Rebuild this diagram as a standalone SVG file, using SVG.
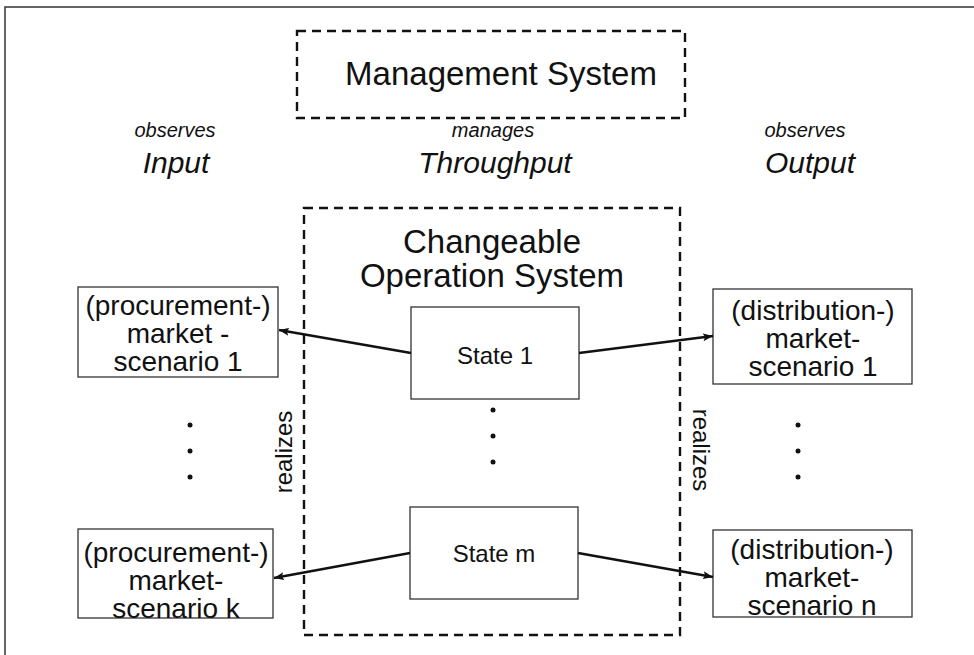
<svg xmlns="http://www.w3.org/2000/svg" width="974" height="655" viewBox="0 0 974 655">
  <defs>
    <style>
      text { font-family: "Liberation Sans", Arial, sans-serif; fill: #111; text-anchor: middle; dominant-baseline: central; }
      .dash { fill: none; stroke: #111; stroke-width: 2.4; stroke-dasharray: 9 6; }
      .box { fill: #fff; stroke: #333; stroke-width: 1.3; }
      .title { font-size: 33px; }
      .label { font-size: 28px; }
      .state { font-size: 24px; }
      .verb { font-size: 20px; font-style: italic; }
      .flow { font-size: 30px; font-style: italic; }
      .side { font-size: 24px; }
      .edge { fill: none; stroke: #111; stroke-width: 2.4; }
      .dot { fill: #111; }
    </style>
    <marker id="arrow" viewBox="0 0 10 8" refX="10" refY="4" markerWidth="10" markerHeight="8" markerUnits="userSpaceOnUse" orient="auto">
      <path d="M0,0 L10,4 L0,8 L2,4 Z" fill="#111"/>
    </marker>
  </defs>

  <rect width="974" height="655" fill="#fff"/>

  <!-- page frame -->
  <path d="M5,655 V7 H974" fill="none" stroke="#333" stroke-width="1.5"/>

  <!-- management layer -->
  <g id="management-system">
    <rect class="dash" x="297" y="31" width="388" height="87"/>
    <text class="title" x="501" y="73">Management System</text>
  </g>

  <g id="input-label">
    <text class="verb" x="175" y="130">observes</text>
    <text class="flow" x="176" y="162">Input</text>
  </g>
  <g id="throughput-label">
    <text class="verb" x="493" y="130">manages</text>
    <text class="flow" x="495" y="162">Throughput</text>
  </g>
  <g id="output-label">
    <text class="verb" x="805" y="130">observes</text>
    <text class="flow" x="810" y="162">Output</text>
  </g>

  <!-- operation system and its states -->
  <g id="operation-system">
    <rect class="dash" x="304" y="208" width="376" height="427"/>
    <text class="title" x="492" y="241">Changeable</text>
    <text class="title" x="492" y="275">Operation System</text>
  </g>

  <g id="state-1">
    <rect class="box" x="411" y="307" width="168" height="92"/>
    <text class="state" x="495" y="355">State 1</text>
  </g>
  <g id="state-m">
    <rect class="box" x="410" y="507" width="168" height="92"/>
    <text class="state" x="494" y="553">State m</text>
  </g>
  <g id="state-dots">
    <circle class="dot" cx="493" cy="410" r="2.5"/>
    <circle class="dot" cx="493" cy="436" r="2.5"/>
    <circle class="dot" cx="493" cy="462" r="2.5"/>
  </g>

  <!-- procurement scenarios -->
  <g id="procurement-1">
    <rect class="box" x="78" y="287" width="200" height="90"/>
    <text class="label" x="178" y="305">(procurement-)</text>
    <text class="label" x="178" y="333">market -</text>
    <text class="label" x="178" y="361">scenario 1</text>
  </g>
  <g id="procurement-k">
    <rect class="box" x="78" y="529" width="195" height="89"/>
    <text class="label" x="176" y="552">(procurement-)</text>
    <text class="label" x="176" y="580">market-</text>
    <text class="label" x="176" y="608">scenario k</text>
  </g>
  <g id="procurement-dots">
    <circle class="dot" cx="190" cy="425" r="2.5"/>
    <circle class="dot" cx="190" cy="451" r="2.5"/>
    <circle class="dot" cx="190" cy="477" r="2.5"/>
  </g>

  <!-- distribution scenarios -->
  <g id="distribution-1">
    <rect class="box" x="713" y="289" width="199" height="95"/>
    <text class="label" x="813" y="310">(distribution-)</text>
    <text class="label" x="813" y="338">market-</text>
    <text class="label" x="813" y="366">scenario 1</text>
  </g>
  <g id="distribution-n">
    <rect class="box" x="713" y="530" width="199" height="87"/>
    <text class="label" x="812" y="549">(distribution-)</text>
    <text class="label" x="812" y="577">market-</text>
    <text class="label" x="812" y="605">scenario n</text>
  </g>
  <g id="distribution-dots">
    <circle class="dot" cx="798" cy="425" r="2.5"/>
    <circle class="dot" cx="798" cy="451" r="2.5"/>
    <circle class="dot" cx="798" cy="477" r="2.5"/>
  </g>

  <g id="realizes-left">
    <text class="side" transform="translate(283,452) rotate(-90)">realizes</text>
  </g>
  <g id="realizes-right">
    <text class="side" transform="translate(701,450) rotate(90)">realizes</text>
  </g>

  <!-- state-to-scenario connectors -->
  <g id="connectors">
    <line class="edge" x1="411" y1="353" x2="279" y2="330" marker-end="url(#arrow)"/>
    <line class="edge" x1="579" y1="353" x2="713" y2="336" marker-end="url(#arrow)"/>
    <line class="edge" x1="410" y1="553" x2="274" y2="578" marker-end="url(#arrow)"/>
    <line class="edge" x1="578" y1="553" x2="713" y2="577" marker-end="url(#arrow)"/>
  </g>
</svg>
